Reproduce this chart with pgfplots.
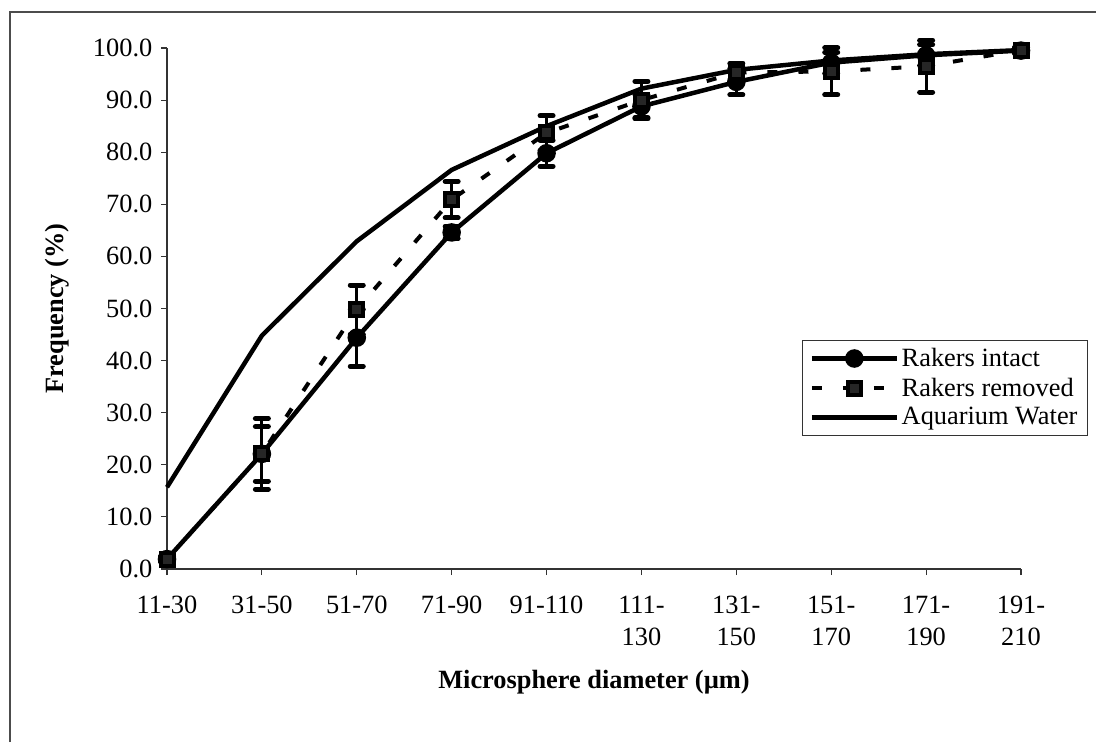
\documentclass[border=0pt]{standalone}
\usepackage{pgfplots}
\pgfplotsset{compat=1.18}
\usepackage{pgfplotstable}
\usepackage{fontspec}
\setmainfont{Liberation Serif}

\pgfplotstableread{
x y e
0 1.9 0.5
1 22.1 6.8
2 44.4 5.5
3 64.6 1.2
4 79.8 2.5
5 88.8 2.2
6 93.5 2.5
7 97.2 2.0
8 98.6 2.0
9 99.5 0.5
}\intact

\pgfplotstableread{
x y e
0 1.9 0.5
1 22.1 5.25
2 49.8 4.7
3 70.9 3.5
4 83.7 3.3
5 90.0 3.6
6 95.3 1.8
7 95.5 4.5
8 96.5 5.0
9 99.6 0.5
}\removed

\pgfplotstableread{
x y
0 15.7
1 44.8
2 62.9
3 76.6
4 85.0
5 92.2
6 95.8
7 97.6
8 98.8
9 99.6
}\aquarium

\begin{document}
\begin{tikzpicture}[font=\fontsize{15}{18}\selectfont]
\useasboundingbox (0,0) rectangle (21.92,14.84);
\draw[black!70, line width=0.6pt] (0.2,0) -- (0.2,14.6) -- (21.92,14.6);
\begin{axis}[
  at={(3.34cm,3.46cm)}, anchor=south west,
  scale only axis, width=17.08cm, height=10.42cm,
  xmin=0, xmax=9, ymin=0, ymax=100,
  axis lines*=left,
  axis line style={black!80, line width=0.7pt},
  tick align=outside, major tick length=0.12cm,
  tick style={black!80, line width=0.6pt},
  xtick={0,...,9},
  xticklabels={11-30,31-50,51-70,71-90,91-110,{111-\\130},{131-\\150},{151-\\170},{171-\\190},{191-\\210}},
  xticklabel style={align=center, anchor=north, yshift=-0.3cm},
  ytick={0,10,...,100},
  yticklabel style={/pgf/number format/fixed, /pgf/number format/fixed zerofill, /pgf/number format/precision=1, /pgf/number format/assume math mode=true, xshift=-0.05cm},
  xlabel={\textbf{Microsphere diameter (µm)}},
  ylabel={\textbf{Frequency (\%)}},
  x label style={at={(axis description cs:0.5,-0.218)}, anchor=center},
  y label style={at={(axis description cs:-0.129,0.5)}, anchor=center},
  clip=false,
  legend cell align=left,
  legend style={at={(0.7436,0.2553)}, anchor=south west, draw=black!80, line width=0.6pt,
    inner xsep=4pt, inner ysep=3pt, row sep=2pt,
    nodes={inner sep=1.5pt}},
  legend image code/.code={
    \draw[mark repeat=2, mark phase=2, #1] plot coordinates {(0cm,0cm) (0.85cm,0cm) (1.7cm,0cm)};
  },
]
\addplot[black, line width=0.09cm, mark=*, mark size=0.14cm, mark options={solid, fill=black},
  error bars/.cd, y dir=both, y explicit, error mark=|,
  error bar style={solid, line width=0.06cm},
  error mark options={solid, line width=0.1cm, mark size=0.13cm, line cap=round}]
  table[x=x, y=y, y error=e] {\intact};
\addlegendentry{Rakers intact}
\addplot[black, line width=0.08cm, dash pattern=on 0.2cm off 0.42cm, mark=square*, mark size=0.13cm, mark options={solid, fill=black!85},
  error bars/.cd, y dir=both, y explicit, error mark=|,
  error bar style={solid, line width=0.06cm},
  error mark options={solid, line width=0.1cm, mark size=0.13cm, line cap=round}]
  table[x=x, y=y, y error=e] {\removed};
\addlegendentry{Rakers removed}
\addplot[black, line width=0.09cm, no marks] table[x=x, y=y] {\aquarium};
\addlegendentry{Aquarium Water}
\end{axis}
\end{tikzpicture}
\end{document}
